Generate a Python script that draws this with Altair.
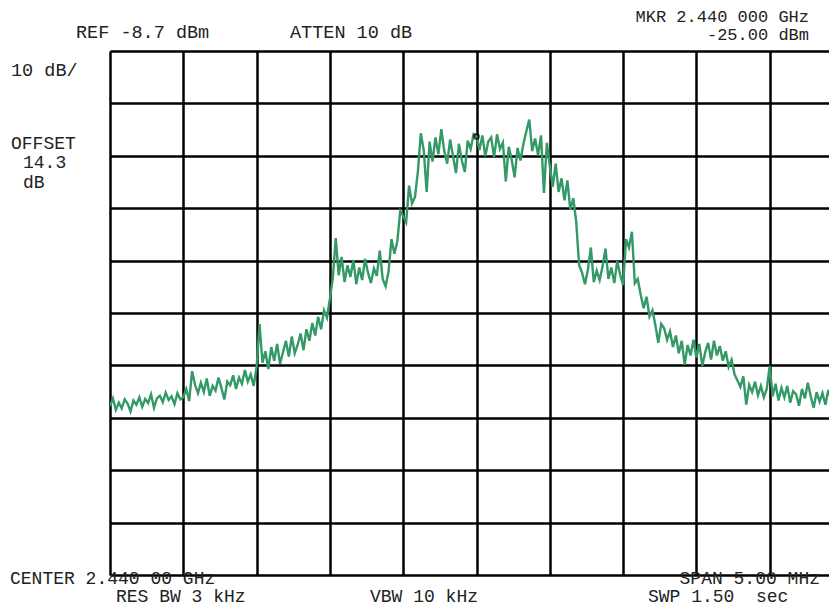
import altair as alt
import pandas as pd

# Spectrum analyzer sweep: 251 points over a 5 MHz span centred on 2.440 GHz
start_mhz = -2.5
step_mhz = 0.02

level_dbm = [
    # 0-24
    -76.5, -75.0, -77.2, -75.8, -76.9, -75.2, -76.0, -77.5, -75.4, -76.2,
    -74.8, -76.6, -75.1, -75.9, -74.2, -76.8, -75.0, -74.5, -75.7, -73.9,
    -75.3, -74.6, -76.1, -74.0, -75.2,
    # 25-49
    -74.8, -73.2, -75.5, -69.8, -72.4, -74.0, -72.0, -73.8, -71.2, -74.5,
    -72.6, -73.5, -71.0, -73.0, -75.2, -71.8, -72.5, -70.6, -73.2, -71.0,
    -72.2, -69.6, -71.8, -70.4, -72.6,
    # 50-74
    -69.0, -60.8, -68.2, -66.0, -69.4, -65.2, -67.8, -64.6, -68.4, -66.2,
    -64.0, -67.0, -63.2, -66.4, -64.8, -62.6, -65.8, -61.8, -64.0, -60.6,
    -63.0, -59.4, -61.8, -58.2, -59.6,
    # 75-99
    -56.0, -52.0, -44.4, -51.5, -48.0, -52.8, -49.6, -51.8, -48.6, -53.2,
    -50.0, -52.4, -48.4, -51.0, -53.0, -50.2, -51.6, -46.8, -52.2, -53.6,
    -50.8, -44.6, -47.4, -45.0, -39.2,
    # 100-124
    -40.2, -41.4, -34.4, -37.8, -36.6, -31.8, -24.4, -27.6, -35.6, -26.0,
    -29.8, -25.2, -28.4, -23.6, -27.8, -30.2, -25.6, -28.8, -32.0, -26.4,
    -29.6, -31.8, -25.8, -27.4, -24.6,
    # 125 (marker) - 149
    -25.0,
    -27.6, -24.8, -28.8, -26.0, -25.2, -29.0, -24.6, -27.4, -26.2, -33.6,
    -27.0, -29.4, -32.8, -27.2, -29.6, -26.4, -24.0, -21.8, -27.8, -25.4,
    -28.6, -24.8, -35.8, -26.2,
    # 150-174
    -30.6, -34.6, -30.2, -35.6, -33.0, -37.2, -33.4, -39.0, -36.8, -41.2,
    -49.6, -51.0, -53.2, -50.4, -46.2, -52.8, -50.6, -52.4, -49.8, -46.4,
    -52.2, -50.0, -53.0, -48.8, -51.4,
    # 175-199
    -53.4, -44.6, -46.2, -43.2, -53.0, -52.2, -55.2, -57.8, -55.6, -59.4,
    -58.2, -61.0, -64.4, -60.8, -61.6, -63.8, -62.2, -65.2, -63.0, -66.4,
    -64.0, -68.6, -64.8, -66.8, -63.8,
    # 200-224
    -67.2, -64.6, -68.8, -66.2, -64.4, -67.6, -64.0, -66.8, -65.0, -67.8,
    -66.0, -69.0, -67.6, -70.4, -71.6, -72.8, -70.8, -76.2, -72.4, -73.8,
    -71.8, -74.4, -72.6, -74.8, -73.2,
    # 225-250
    -68.8, -74.6, -72.2, -75.4, -73.0, -74.8, -72.6, -75.8, -73.6, -74.2,
    -76.4, -73.2, -75.0, -72.0, -74.6, -76.8, -73.8, -75.6, -74.0, -76.2,
    -73.4, -75.2, -77.0, -74.4, -75.8, -74.6,
]

freq_mhz = [round(start_mhz + i * step_mhz, 4) for i in range(len(level_dbm))]

x_grid = [-2.5, -2.0, -1.5, -1.0, -0.5, 0.0, 0.5, 1.0, 1.5, 2.0]
y_grid = [-8.7, -18.7, -28.7, -38.7, -48.7, -58.7, -68.7, -78.7, -88.7, -98.7, -108.7]

marker_freq = [0.0]
marker_level = [-25.0]

trace = pd.DataFrame({"f": freq_mhz, "dbm": level_dbm})
marker = pd.DataFrame({"f": marker_freq, "dbm": marker_level})

FONT = "Courier New, Liberation Mono, monospace"
GREEN = "#339966"

# full screen is 733 px for 5 MHz; only the part that fits the window is shown
FULL_W = 733
PLOT_W = 719
x_right = -2.5 + 5.0 * PLOT_W / FULL_W

xs = alt.Scale(domain=[-2.5, x_right], nice=False, zero=False)
ys = alt.Scale(domain=[-108.7, -8.7], nice=False, zero=False)

x_axis = alt.Axis(values=x_grid, grid=True, labels=False, ticks=False, domain=False,
                  title=None, gridColor="black", gridWidth=2.5, gridOpacity=1)
y_axis = alt.Axis(values=y_grid, grid=True, labels=False, ticks=False, domain=False,
                  title=None, gridColor="black", gridWidth=2.5, gridOpacity=1)

line = alt.Chart(trace).mark_line(color=GREEN, strokeWidth=2.4, clip=True).encode(
    x=alt.X("f:Q", scale=xs, axis=x_axis),
    y=alt.Y("dbm:Q", scale=ys, axis=y_axis),
)

mk = alt.Chart(marker).mark_point(shape="circle", filled=False, color="black",
                                  strokeWidth=2, size=22).encode(
    x=alt.X("f:Q", scale=xs),
    y=alt.Y("dbm:Q", scale=ys),
)


def label(text, x, y, align="left", size=18.5):
    return alt.Chart(pd.DataFrame({"t": [text]})).mark_text(
        font=FONT, fontSize=size, color="#222222", align=align, baseline="alphabetic"
    ).encode(text="t:N", x=alt.value(x), y=alt.value(y))


labels = [
    label("REF -8.7 dBm", -34, -13),
    label("ATTEN 10 dB", 180, -13),
    label("MKR 2.440 000 GHz", 699, -29, "right", 17),
    label("-25.00 dBm", 699, -11, "right", 17),
    label("10 dB/", -99, 25),
    label("OFFSET", -99, 98, size=18),
    label("14.3", -87, 117, size=18),
    label("dB", -87, 137, size=18),
    label("CENTER 2.440 00 GHz", -100, 533, size=18),
    label("SPAN 5.00 MHz", 710, 533, "right", 18),
    label("RES BW 3 kHz", 6, 551, size=18),
    label("VBW 10 kHz", 260, 551, size=18),
    label("SWP 1.50\u00a0 sec", 538, 551, size=18),
]

chart = alt.layer(line, mk, *labels).properties(
    width=PLOT_W,
    height=524,
    padding={"left": 102, "top": 43, "right": 0, "bottom": 32},
    autosize=alt.AutoSizeParams(type="none"),
).configure_view(stroke=None).configure(background="white")

chart.save("out.html", embed_options={"renderer": "svg", "actions": False})
